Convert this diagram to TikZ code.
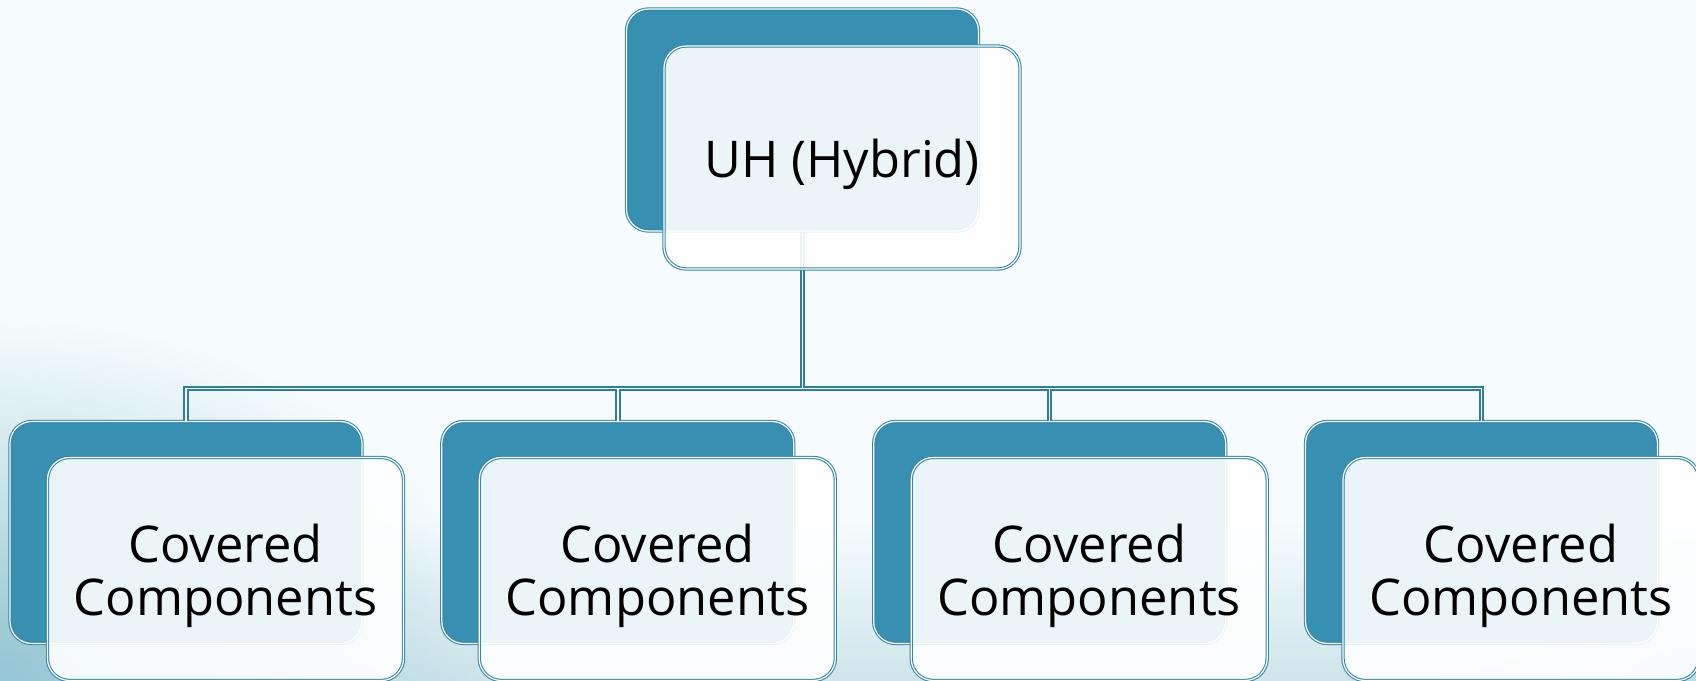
\documentclass[tikz,border=0pt]{standalone}
\usepackage{fontspec}
\setmainfont{Open Sans}
\usetikzlibrary{fadings}

\definecolor{pagebg}{RGB}{246,252,253}
\definecolor{stripteal}{RGB}{206,229,235}
\definecolor{cornerteal}{RGB}{150,199,212}
\definecolor{cardteal}{RGB}{55,143,177}
\definecolor{edgeteal}{RGB}{52,134,166}
\definecolor{linkteal}{RGB}{46,126,156}

% taller first line, pushes the text a little lower in the card
\newcommand{\cardstrut}{\rule{0pt}{14.6pt}}

\tikzfading[name=softcorner, inner color=transparent!0, outer color=transparent!100]

\tikzset{
  backcard/.style={rectangle, rounded corners=0.22cm, inner sep=0pt,
    minimum width=3.52cm, minimum height=2.22cm,
    fill=cardteal, draw=edgeteal, line width=0.3pt, double=white, double distance=0.35pt},
  frontcard/.style={rectangle, rounded corners=0.22cm, inner sep=0pt,
    minimum width=3.56cm, minimum height=2.23cm, align=center,
    fill=white, fill opacity=0.9, text opacity=1, text=black,
    draw=edgeteal, line width=0.3pt, double=white, double distance=0.35pt,
    font=\fontsize{14.4pt}{15.1pt}\selectfont},
  link/.style={draw=linkteal, line width=0.55pt, double=white, double distance=0.45pt}
}

\begin{document}
\begin{tikzpicture}

\useasboundingbox (0,0) rectangle (16.96,6.81) ;

% background with the soft teal corners
\fill [pagebg] (0,0) rectangle (16.96,6.81) ;
\shade [top color=pagebg, bottom color=stripteal] (0,0) rectangle (16.96,1.6) ;
\begin{scope}
\clip (0,0) rectangle (16.96,6.81) ;
\fill [cornerteal, path fading=softcorner] (0,0) ellipse (5 and 3.6) ;
\fill [cornerteal!60!pagebg, path fading=softcorner] (16.96,0) ellipse (2.5 and 1.6) ;
\end{scope}

% back cards
\node [backcard] (uhback) at (8.025,5.61) {} ;
\node [backcard] (ccAback) at (1.86,1.485) {} ;
\node [backcard] (ccBback) at (6.178,1.485) {} ;
\node [backcard] (ccCback) at (10.497,1.485) {} ;
\node [backcard] (ccDback) at (14.815,1.485) {} ;

% tree lines
\coordinate (bus) at (8.025,2.925) ;
\draw [link] (uhback.south) -- (bus)
  (ccAback.north) |- (bus) -| (ccDback.north)
  (ccBback.north) -- (ccBback.north |- bus)
  (ccCback.north) -- (ccCback.north |- bus) ;

% front cards
\node [frontcard] (uh) at (8.42,5.235) {\cardstrut UH (Hybrid)} ;
\node [frontcard] (ccA) at (2.255,1.12) {\cardstrut Covered\\Components} ;
\node [frontcard] (ccB) at (6.573,1.12) {\cardstrut Covered\\Components} ;
\node [frontcard] (ccC) at (10.892,1.12) {\cardstrut Covered\\Components} ;
\node [frontcard] (ccD) at (15.21,1.12) {\cardstrut Covered\\Components} ;

\end{tikzpicture}
\end{document}
